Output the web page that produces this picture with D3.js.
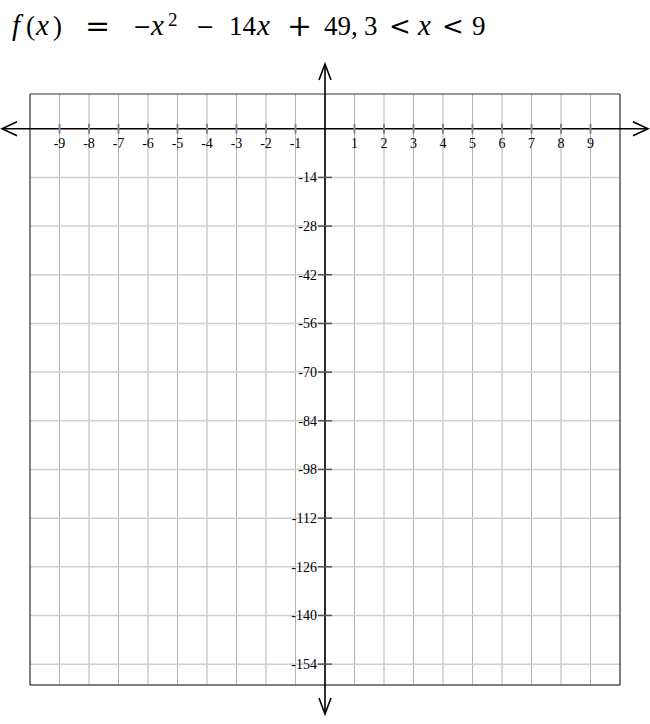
<!DOCTYPE html>
<html><head><meta charset="utf-8">
<script src="https://cdn.jsdelivr.net/npm/d3@7"></script>
<style>body{margin:0;background:#fff}svg{display:block}</style>
</head><body>
<script>
const xTicks = [-9,-8,-7,-6,-5,-4,-3,-2,-1,1,2,3,4,5,6,7,8,9];
const xGrid = [-9,-8,-7,-6,-5,-4,-3,-2,-1,0,1,2,3,4,5,6,7,8,9];
const yTicks = [-14,-28,-42,-56,-70,-84,-98,-112,-126,-140,-154];
const xDomain = [-10, 10];
const yDomain = [-160, 10];
const titleParts = [
  {t:"f", k:"it", at:12}, {t:"(", k:"rm", at:26}, {t:"x", k:"it", at:36}, {t:")", k:"rm", at:53},
  {t:"=", k:"op", at:85}, {t:"\u2212", k:"mi", at:133}, {t:"x", k:"it", at:151}, {t:"2", k:"sup", at:168},
  {t:"\u2212", k:"mi", at:196}, {t:"14", k:"rm", at:229}, {t:"x", k:"it", at:257},
  {t:"+", k:"op", at:287}, {t:"49,", k:"rm", at:324}, {t:"3", k:"rm", at:364},
  {t:"<", k:"lt", at:389}, {t:"x", k:"it", at:418}, {t:"<", k:"lt", at:442}, {t:"9", k:"rm", at:472}
];
const titleStyles = {
  rm: {f:"'Liberation Serif', serif", s:27, st:"normal", dy:0},
  it: {f:"'Liberation Serif', serif", s:29, st:"italic", dy:0},
  sup:{f:"'Liberation Serif', serif", s:19, st:"normal", dy:-9},
  op: {f:"'DejaVu Serif', serif", s:30, st:"normal", dy:1},
  mi: {f:"'DejaVu Serif', serif", s:22, st:"normal", dy:-1},
  lt: {f:"'DejaVu Serif', serif", s:26, st:"normal", dy:0}
};

const W = 650, H = 724;
const svg = d3.select("body").append("svg").attr("width", W).attr("height", H);
const x = d3.scaleLinear().domain(xDomain).range([30, 620]);
const y = d3.scaleLinear().domain(yDomain).range([685, 94]);

// title (single text element with positioned tspans)
const baseY = 35;
const title = svg.append("text").attr("x", 12).attr("y", baseY).attr("fill", "#000");
titleParts.forEach(p => {
  const s = titleStyles[p.k];
  title.append("tspan").attr("x", p.at).attr("y", baseY + s.dy)
    .attr("font-family", s.f).attr("font-size", s.s).attr("font-style", s.st).text(p.t);
});

// grid
const g = svg.append("g");
g.selectAll("line.v").data(xGrid).join("line")
  .attr("x1", d=>x(d)).attr("x2", d=>x(d)).attr("y1", y(yDomain[1])).attr("y2", y(yDomain[0]))
  .attr("stroke", "#b3b3b3").attr("stroke-width", 1);
g.selectAll("line.h").data(yTicks).join("line")
  .attr("x1", x(xDomain[0])).attr("x2", x(xDomain[1])).attr("y1", d=>y(d)).attr("y2", d=>y(d))
  .attr("stroke", "#cfcfcf").attr("stroke-width", 1.5);

// box
svg.append("line").attr("x1", x(-10)).attr("x2", x(10)).attr("y1", y(10)).attr("y2", y(10)).attr("stroke", "#777").attr("stroke-width", 1.5);
svg.append("line").attr("x1", x(-10)).attr("x2", x(10)).attr("y1", y(-160)).attr("y2", y(-160)).attr("stroke", "#555").attr("stroke-width", 1.5);
svg.append("line").attr("x1", x(-10)).attr("x2", x(-10)).attr("y1", y(10)).attr("y2", y(-160)).attr("stroke", "#000").attr("stroke-width", 1);
svg.append("line").attr("x1", x(10)).attr("x2", x(10)).attr("y1", y(10)).attr("y2", y(-160)).attr("stroke", "#000").attr("stroke-width", 1);

// axes
const ax = svg.append("g");
ax.append("line").attr("x1", 2).attr("x2", 648).attr("y1", y(0)).attr("y2", y(0)).attr("stroke", "#000").attr("stroke-width", 1.6);
ax.append("line").attr("x1", x(0)).attr("x2", x(0)).attr("y1", 64).attr("y2", 714).attr("stroke", "#000").attr("stroke-width", 1.6);
const arrow = (pts) => ax.append("path").attr("d", d3.line()(pts)).attr("fill", "none").attr("stroke", "#000").attr("stroke-width", 1.6);
arrow([[17, y(0)-7], [2, y(0)], [17, y(0)+7]]);
arrow([[633, y(0)-7], [648, y(0)], [633, y(0)+7]]);
arrow([[x(0)-6, 80], [x(0), 64], [x(0)+6, 80]]);
arrow([[x(0)-6, 698], [x(0), 714], [x(0)+6, 698]]);

// x ticks
ax.selectAll("line.xt").data(xTicks).join("line")
  .attr("x1", d=>x(d)).attr("x2", d=>x(d)).attr("y1", y(0)-5).attr("y2", y(0)+5)
  .attr("stroke", "#888").attr("stroke-width", 2);
ax.selectAll("text.xl").data(xTicks).join("text")
  .attr("x", d=>x(d)).attr("y", y(0)+19).attr("text-anchor", "middle")
  .attr("font-family", "'Liberation Serif', serif").attr("font-size", 14).attr("fill", "#000").text(d=>d);
// y ticks
ax.selectAll("line.yt").data(yTicks).join("line")
  .attr("x1", x(0)-7).attr("x2", x(0)+7).attr("y1", d=>y(d)).attr("y2", d=>y(d))
  .attr("stroke", "#555").attr("stroke-width", 1.5);
ax.selectAll("text.yl").data(yTicks).join("text")
  .attr("x", x(0)-8).attr("y", d=>y(d)+5).attr("text-anchor", "end")
  .attr("font-family", "'Liberation Serif', serif").attr("font-size", 14).attr("fill", "#000").text(d=>d);
</script>
</body></html>
